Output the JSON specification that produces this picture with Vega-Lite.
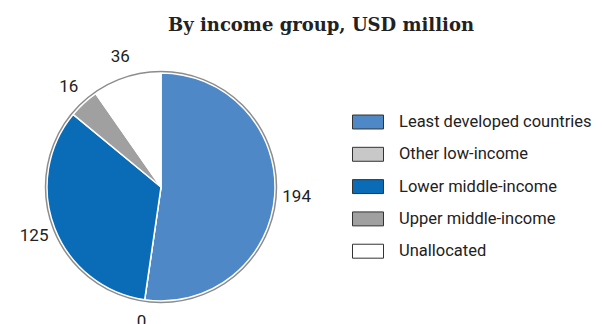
{
  "$schema": "https://vega.github.io/schema/vega-lite/v6.json",
  "width": 322,
  "height": 250,
  "padding": {"top": 17, "left": 0, "right": 0, "bottom": 0},
  "autosize": {"type": "pad"},
  "background": "white",
  "title": {"text": "By income group, USD million", "font": "DejaVu Serif", "fontSize": 18, "fontWeight": "bold", "color": "#222222", "offset": 13, "anchor": "middle", "frame": "bounds", "dx": 25},
  "config": {"view": {"stroke": null}},
  "data": {"values": [
    {"group": "Least developed countries", "value": 194, "order": 1},
    {"group": "Other low-income", "value": 0, "order": 2},
    {"group": "Lower middle-income", "value": 125, "order": 3},
    {"group": "Upper middle-income", "value": 16, "order": 4},
    {"group": "Unallocated", "value": 36, "order": 5}
  ]},
  "layer": [
    {
      "mark": {"type": "arc", "radius": 114, "stroke": "white", "strokeWidth": 1.5},
      "encoding": {
        "theta": {"field": "value", "type": "quantitative", "stack": true},
        "order": {"field": "order", "type": "quantitative"},
        "color": {
          "field": "group", "type": "nominal",
          "scale": {
            "domain": ["Least developed countries", "Other low-income", "Lower middle-income", "Upper middle-income", "Unallocated"],
            "range": ["#4f88c6", "#c8c8c8", "#0a6bb6", "#a0a0a0", "#ffffff"]
          },
          "legend": {
            "orient": "none", "legendX": 352, "legendY": 44, "title": null,
            "symbolType": "M-1,-0.45H1V0.45H-1Z", "symbolSize": 961,
            "symbolStrokeColor": "#333333", "symbolStrokeWidth": 1,
            "labelFont": "Roboto", "labelFontSize": 16.5, "labelColor": "#222222",
            "labelOffset": 15, "labelLimit": 0, "rowPadding": 7.3, "padding": 0
          }
        }
      }
    },
    {
      "mark": {"type": "arc", "radius": 115.5, "fill": "white", "fillOpacity": 0, "stroke": "#8c8c8c", "strokeWidth": 1.5},
      "encoding": {
        "theta": {"aggregate": "sum", "field": "value", "type": "quantitative"}
      }
    },
    {
      "mark": {"type": "text", "radius": 136, "font": "Roboto", "fontSize": 17, "color": "#222222"},
      "encoding": {
        "theta": {"field": "value", "type": "quantitative", "stack": true},
        "order": {"field": "order", "type": "quantitative"},
        "text": {"field": "value", "type": "quantitative"}
      }
    }
  ]
}
